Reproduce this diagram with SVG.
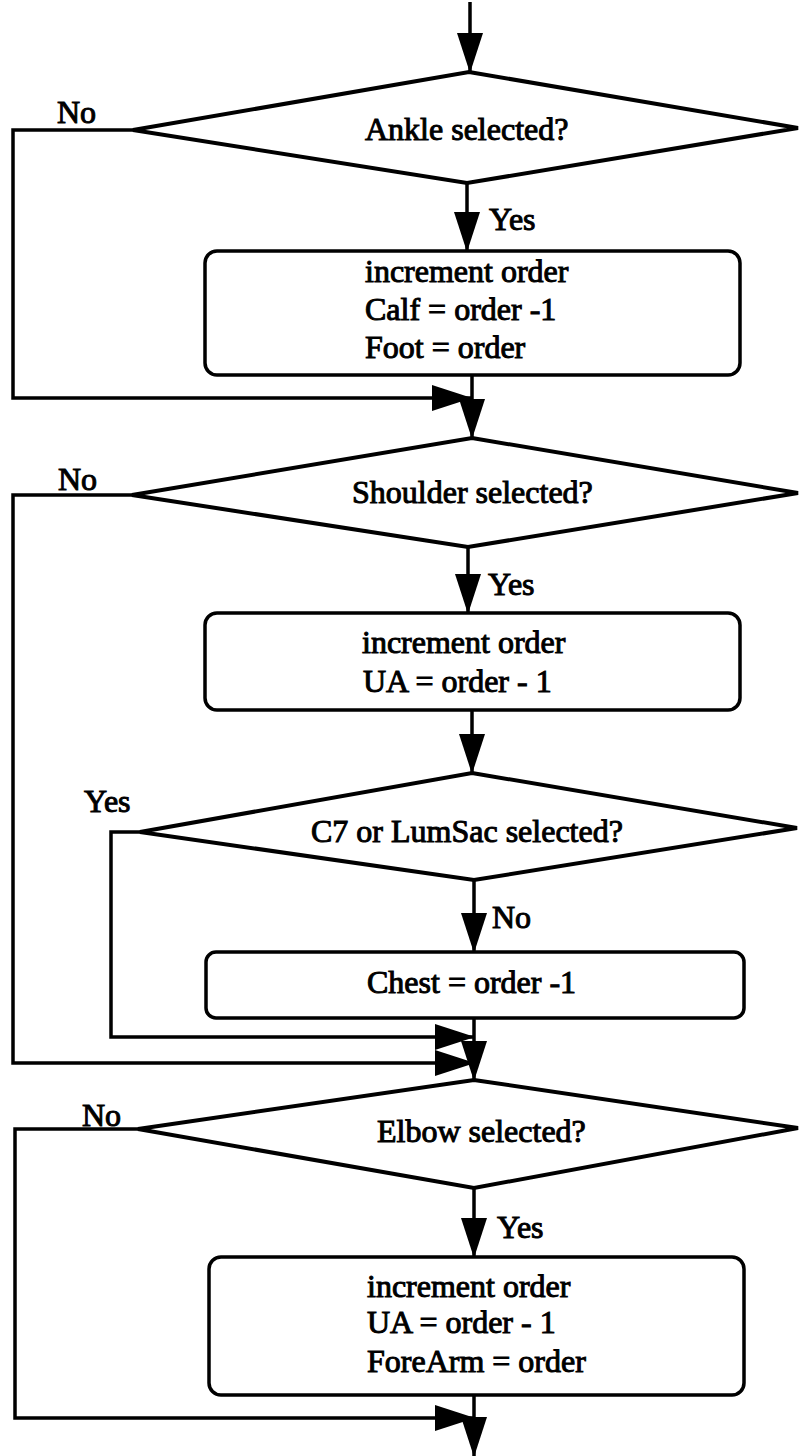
<svg xmlns="http://www.w3.org/2000/svg" width="799" height="1456" viewBox="0 0 799 1456">
  <style>
    .shape { fill: #fff; stroke: #000; stroke-width: 4; stroke-linejoin: miter; }
    .box { fill: #fff; stroke: #000; stroke-width: 3.5; }
    .conn { fill: none; stroke: #000; stroke-width: 3.5; marker-end: url(#head); }
    text { font-family: "Liberation Serif", "Times New Roman", serif; font-size: 32px; fill: #000; stroke: #000; stroke-width: 1; }
  </style>
  <defs>
    <marker id="head" viewBox="0 0 40 26" refX="39" refY="13" markerWidth="40" markerHeight="26" markerUnits="userSpaceOnUse" orient="auto">
      <path d="M0,0 L40,13 L0,26 Z" fill="#000"/>
    </marker>
  </defs>
  <rect width="799" height="1456" fill="#fff"/>

  <!-- connectors -->
  <g id="connectors">
    <path class="conn" d="M470,2 V72"/>
    <path class="conn" d="M467,183 V251"/>
    <path class="conn" d="M133,130 H13 V398 H471"/>
    <path class="conn" d="M472,375 V438"/>
    <path class="conn" d="M468,547 V613"/>
    <path class="conn" d="M132,495 H13 V1063 H474"/>
    <path class="conn" d="M472,710 V773"/>
    <path class="conn" d="M474,880 V952"/>
    <path class="conn" d="M140,832 H111 V1037 H474"/>
    <path class="conn" d="M474,1018 V1080"/>
    <path class="conn" d="M474,1188 V1257"/>
    <path class="conn" d="M138,1129 H15 V1418 H474"/>
    <path class="conn" d="M474,1395 V1456"/>
  </g>

  <!-- branch labels -->
  <g id="labels">
    <text x="57" y="123">No</text>
    <text x="489" y="230">Yes</text>
    <text x="58" y="490">No</text>
    <text x="488" y="595">Yes</text>
    <text x="84" y="812">Yes</text>
    <text x="492" y="928">No</text>
    <text x="82" y="1126">No</text>
    <text x="497" y="1238">Yes</text>
  </g>

  <g id="ankle-decision">
    <polygon class="shape" points="469,72 798,128 467,183 133,130"/>
    <text x="365" y="140">Ankle selected?</text>
  </g>

  <g id="ankle-update">
    <rect class="box" x="205" y="251" width="535" height="124" rx="12"/>
    <text x="365" y="282">increment order</text>
    <text x="365" y="320">Calf = order -1</text>
    <text x="365" y="358">Foot = order</text>
  </g>

  <g id="shoulder-decision">
    <polygon class="shape" points="472,438 798,493 468,547 132,495"/>
    <text x="352" y="503">Shoulder selected?</text>
  </g>

  <g id="shoulder-update">
    <rect class="box" x="205" y="613" width="535" height="97" rx="12"/>
    <text x="362" y="653">increment order</text>
    <text x="363" y="692">UA = order - 1</text>
  </g>

  <g id="spine-decision">
    <polygon class="shape" points="472,773 797,828 474,880 140,832"/>
    <text x="311" y="842">C7 or LumSac selected?</text>
  </g>

  <g id="chest-update">
    <rect class="box" x="206" y="952" width="538" height="66" rx="10"/>
    <text x="367" y="993">Chest = order -1</text>
  </g>

  <g id="elbow-decision">
    <polygon class="shape" points="474,1080 798,1128 474,1188 138,1129"/>
    <text x="377" y="1142">Elbow selected?</text>
  </g>

  <g id="elbow-update">
    <rect class="box" x="209" y="1257" width="535" height="138" rx="12"/>
    <text x="367" y="1297">increment order</text>
    <text x="367" y="1333">UA = order - 1</text>
    <text x="367" y="1372">ForeArm = order</text>
  </g>
</svg>
